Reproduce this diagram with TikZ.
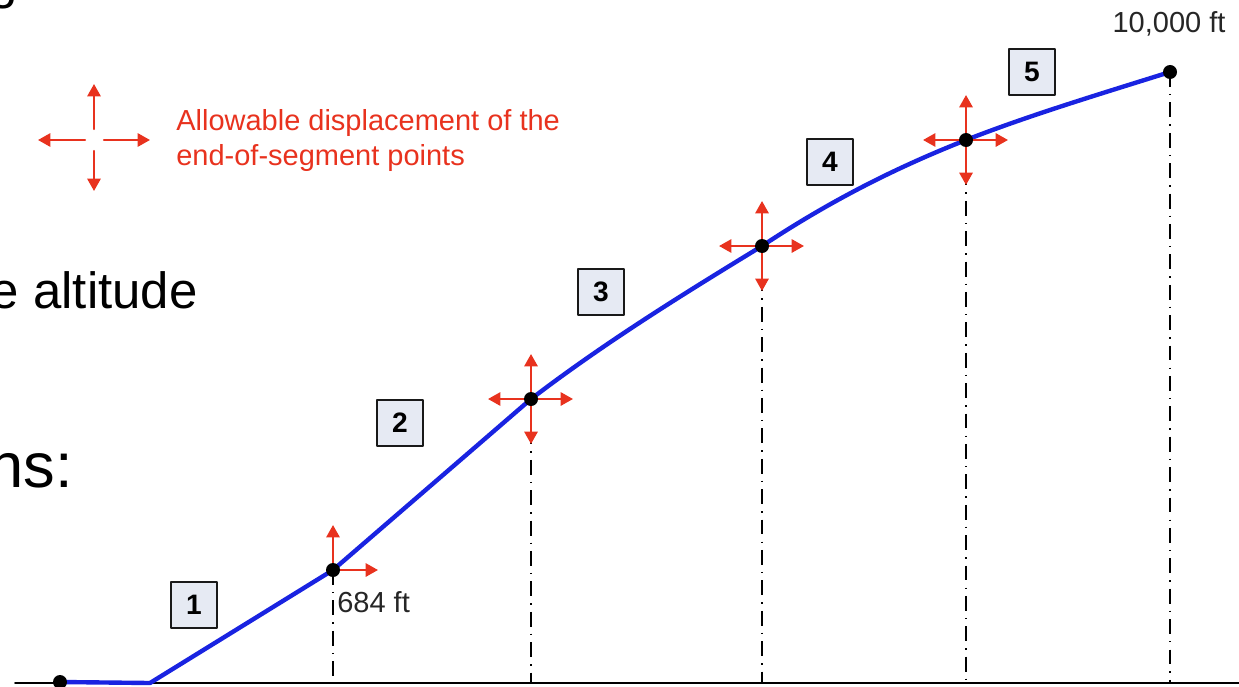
\documentclass[tikz,border=0pt]{standalone}
\usepackage{fontspec}
\setmainfont{Liberation Sans}
\usetikzlibrary{arrows.meta}
\definecolor{pathblue}{RGB}{25,35,225}
\definecolor{shiftred}{RGB}{232,50,30}
\definecolor{segfill}{RGB}{230,234,243}
\begin{document}
\begin{tikzpicture}[x=0.02cm,y=-0.02cm,line join=round,line cap=round,
	segbox/.style={draw=black!90,line width=1.1pt,fill=segfill,minimum size=0.92cm,inner sep=0pt,font=\fontsize{16}{19}\selectfont\bfseries},
	nudge/.style={draw=shiftred,line width=1.3pt,-{Triangle[length=7pt,width=7.5pt]}},
	dropline/.style={line width=1pt,line cap=butt,dash pattern=on 8.5pt off 4pt on 0.8pt off 4pt},
	altlabel/.style={font=\fontsize{16.5}{19}\selectfont,text=black!85,inner sep=0pt},
	legend/.style={font=\fontsize{16.5}{19.8}\selectfont,text=shiftred,align=left,inner sep=0pt},
	slide/.style={font=\fontsize{29}{34}\selectfont,inner sep=0pt}]
	\useasboundingbox (0,0) rectangle (1239,686);
	\clip (0,0) rectangle (1239,686);
	
	\node[slide,anchor=base east] (t0) at (18,-1) {g};
	\node[slide,anchor=base east] (t1) at (198,308) {e altitude};
	\node[slide,font=\fontsize{36}{40}\selectfont,anchor=base east] (t2) at (73,487) {ns:};
	
	\coordinate (base) at (15,683);
	\coordinate (p0) at (60,682);
	\coordinate (k0) at (150,683);
	\coordinate (p1) at (333,570);
	\coordinate (p2) at (531,399);
	\coordinate (p3) at (762,246);
	\coordinate (p4) at (966,140);
	\coordinate (p5) at (1170,72);
	
	\draw[line width=1.1pt] (base) -- (1239,683);
	\foreach \i in {1,...,5}{
		\draw[dropline] (p\i) -- (p\i |- base);
	}
	\draw[pathblue,line width=2.5pt] (p0) -- (k0) -- (p1) -- (p2) .. controls (607,341) and (685,293) .. (p3) .. controls (830,201) and (895,168) .. (p4) .. controls (1030,115) and (1100,94) .. (p5);
	
	\foreach \i in {2,3,4}{
		\draw[nudge] (p\i) -- ++(0,-45);
		\draw[nudge] (p\i) -- ++(0,45);
		\draw[nudge] (p\i) -- ++(-43,0);
		\draw[nudge] (p\i) -- ++(42,0);
	}
	\draw[nudge] (p1) -- ++(0,-45);
	\draw[nudge] (p1) -- ++(45,0);
	\foreach \i in {0,...,5}{
		\fill (p\i) circle (7);
	}
	
	\foreach \n/\x/\y in {1/194/605,2/400/423,3/601/292,4/830/162,5/1032/72}{
		\node[segbox] (s\n) at (\x,\y) {\n};
	}
	\node[altlabel,anchor=base west] (h1) at (337,612) {684 ft};
	\node[altlabel,anchor=base] (h5) at (1169,33) {10,000 ft};
	
	\coordinate (lg) at (94,140);
	\draw[nudge] (lg) ++(0,-11) -- ++(0,-45);
	\draw[nudge] (lg) ++(0,11) -- ++(0,40);
	\draw[nudge] (lg) ++(-9,0) -- ++(-47,0);
	\draw[nudge] (lg) ++(10,0) -- ++(46,0);
	\node[legend,anchor=north west] (lgt) at (176,109) {Allowable displacement of the\\end-of-segment points};
\end{tikzpicture}
\end{document}
